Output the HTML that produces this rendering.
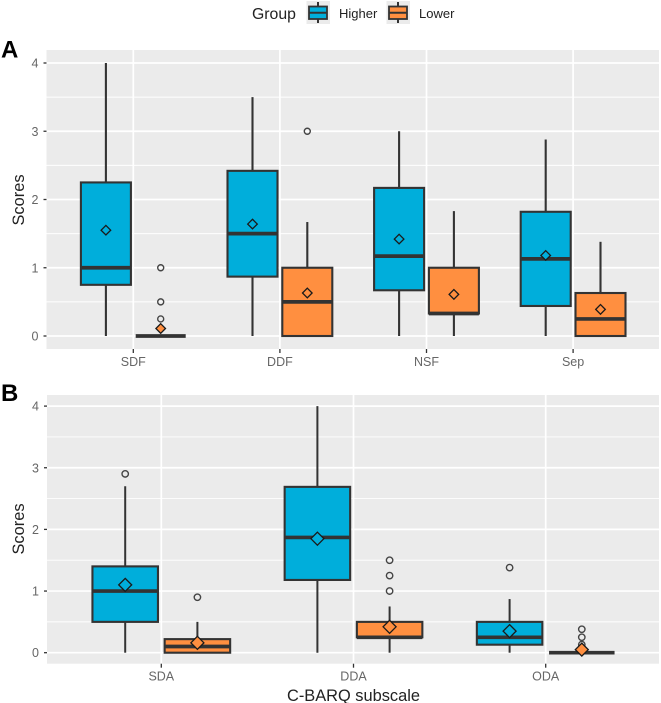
<!DOCTYPE html>
<html>
<head>
<meta charset="utf-8">
<style>
html,body{margin:0;padding:0;background:#fff;width:661px;height:703px;overflow:hidden}
svg{display:block;filter:blur(0.3px)}
text{font-family:"Liberation Sans",sans-serif}
</style>
</head>
<body>
<svg id="chart" xmlns="http://www.w3.org/2000/svg" width="661" height="703" viewBox="0 0 661 703">
  <g>
    <text x="252" y="19" font-size="15.8" fill="#222">Group</text>
    <g>
      <rect x="306.5" y="1" width="23.5" height="23" fill="#ebebeb"/>
      <line x1="318" y1="2" x2="318" y2="23" stroke="#333" stroke-width="2"/>
      <rect x="309" y="6.5" width="18" height="12.5" fill="#00AEDB" stroke="#333" stroke-width="1.8"/>
      <line x1="309" y1="12.7" x2="327" y2="12.7" stroke="#333" stroke-width="2"/>
      <text x="339" y="18" font-size="13" fill="#222">Higher</text>
    </g>
    <g>
      <rect x="386.5" y="1" width="23.5" height="23" fill="#ebebeb"/>
      <line x1="398" y1="2" x2="398" y2="23" stroke="#333" stroke-width="2"/>
      <rect x="389" y="6.5" width="18" height="12.5" fill="#FF8F40" stroke="#333" stroke-width="1.8"/>
      <line x1="389" y1="12.7" x2="407" y2="12.7" stroke="#333" stroke-width="2"/>
      <text x="419" y="18" font-size="13" fill="#222">Lower</text>
    </g>
  </g>
  <text x="1" y="57.5" font-size="24" font-weight="bold" fill="#000">A</text>
  <text x="1" y="401" font-size="24" font-weight="bold" fill="#000">B</text>
  <text x="0" y="0" transform="translate(24,200) rotate(-90)" text-anchor="middle" font-size="16.4" fill="#222">Scores</text>
  <text x="0" y="0" transform="translate(24,529) rotate(-90)" text-anchor="middle" font-size="16.4" fill="#222">Scores</text>
  <text x="353.5" y="701" text-anchor="middle" font-size="16.4" fill="#222">C-BARQ subscale</text>
  <g id="panelA"></g>
  <g id="panelB"></g>
</svg>
<script>
// Tick labels
const yTicks = [0, 1, 2, 3, 4];
const yMinorTicks = [0.5, 1.5, 2.5, 3.5];

// Panel A categories and series: [whiskerLow, q1, median, q3, whiskerHigh]
const categoriesA = ["SDF", "DDF", "NSF", "Sep"];
const higherStatsA = [[0, 0.75, 1, 2.25, 4], [0, 0.87, 1.5, 2.42, 3.5], [0, 0.67, 1.17, 2.17, 3], [0, 0.44, 1.13, 1.82, 2.88]];
const lowerStatsA = [[0, 0, 0, 0, 0], [0, 0, 0.5, 1, 1.67], [0, 0.33, 0.33, 1, 1.83], [0, 0, 0.25, 0.63, 1.38]];
const higherMeansA = [1.55, 1.64, 1.42, 1.18];
const lowerMeansA = [0.11, 0.63, 0.61, 0.39];
const higherOutliersA = [[], [], [], []];
const lowerOutliersA = [[0.25, 0.5, 1], [3], [], []];

// Panel B categories and series
const categoriesB = ["SDA", "DDA", "ODA"];
const higherStatsB = [[0, 0.5, 1, 1.4, 2.7], [0, 1.18, 1.87, 2.69, 4], [0, 0.13, 0.25, 0.5, 0.87]];
const lowerStatsB = [[0, 0, 0.1, 0.22, 0.5], [0, 0.25, 0.25, 0.5, 0.75], [0, 0, 0, 0, 0]];
const higherMeansB = [1.1, 1.85, 0.35];
const lowerMeansB = [0.16, 0.42, 0.05];
const higherOutliersB = [[2.9], [], [1.38]];
const lowerOutliersB = [[0.9], [1, 1.25, 1.5], [0.13, 0.25, 0.38]];

const SVGNS = "http://www.w3.org/2000/svg";
const BLUE = "#00AEDB";
const ORANGE = "#FF8F40";
const DARK = "#333333";

function mk(parent, tag, props, txt) {
  const el = document.createElementNS(SVGNS, tag);
  for (const k in props) el.setAttribute(k, props[k]);
  if (txt !== undefined) el.textContent = txt;
  parent.appendChild(el);
  return el;
}

function drawPanel(root, cfg) {
  const yScale = v => cfg.y0 - v * cfg.yUnit;
  const xScale = i => cfg.x0 + i * cfg.xStep;

  const bg = mk(root, "rect", {x: cfg.left, y: cfg.top, width: cfg.right - cfg.left, height: cfg.bottom - cfg.top, fill: "#EBEBEB"});
  
  

  yMinorTicks.forEach(t => {
    const g = mk(root, "line", {x1: cfg.left, x2: cfg.right, y1: yScale(t), y2: yScale(t), stroke: "#fff", "stroke-width": 0.9});
    
    
  });
  yTicks.forEach(t => {
    const g = mk(root, "line", {x1: cfg.left, x2: cfg.right, y1: yScale(t), y2: yScale(t), stroke: "#fff", "stroke-width": 1.7});
    
    
    const tk = mk(root, "line", {x1: cfg.left - 3, x2: cfg.left, y1: yScale(t), y2: yScale(t), stroke: "#333", "stroke-width": 1.3});
    
    
    const lb = mk(root, "text", {x: cfg.left - 8, y: yScale(t) + 4.5, "text-anchor": "end", "font-size": 12.5, fill: "#666"}, String(t));
    
    
  });
  cfg.categories.forEach((c, i) => {
    const x = xScale(i);
    const g = mk(root, "line", {x1: x, x2: x, y1: cfg.top, y2: cfg.bottom, stroke: "#fff", "stroke-width": 1.7});
    
    
    const tk = mk(root, "line", {x1: x, x2: x, y1: cfg.bottom, y2: cfg.bottom + 4, stroke: "#333", "stroke-width": 1.3});
    
    
    const lb = mk(root, "text", {x: x, y: cfg.bottom + 17, "text-anchor": "middle", "font-size": 12.5, fill: "#666"}, c);
    
    
  });

  const drawSeries = (stats, means, outliers, sign, fill, group) => {
    stats.forEach((s, i) => {
      const cx = xScale(i) + sign * cfg.dodge;
      const hw = cfg.boxWidth / 2;
      const wl = mk(root, "line", {x1: cx, x2: cx, y1: yScale(s[0]), y2: yScale(s[1]), stroke: DARK, "stroke-width": cfg.whisker});
      
      
      const wh = mk(root, "line", {x1: cx, x2: cx, y1: yScale(s[3]), y2: yScale(s[4]), stroke: DARK, "stroke-width": cfg.whisker});
      
      
      const bx = mk(root, "rect", {x: cx - hw, y: yScale(s[3]), width: cfg.boxWidth, height: yScale(s[1]) - yScale(s[3]), fill: fill, stroke: DARK, "stroke-width": cfg.boxStroke});
      
      
      const md = mk(root, "line", {x1: cx - hw, x2: cx + hw, y1: yScale(s[2]), y2: yScale(s[2]), stroke: DARK, "stroke-width": cfg.median});
      
      
      outliers[i].forEach(v => {
        const o = mk(root, "circle", {cx: cx, cy: yScale(v), r: cfg.outlierR, fill: "none", stroke: "#444", "stroke-width": 1.4});
        
        
      });
      const my = yScale(means[i]);
      const d = cfg.diamond;
      const dm = mk(root, "polygon", {points: cx + "," + (my - d) + " " + (cx + d) + "," + my + " " + cx + "," + (my + d) + " " + (cx - d) + "," + my, fill: fill, stroke: "#1a1a1a", "stroke-width": 1.3});
      
      
    });
  };
  drawSeries(cfg.higherStats, cfg.higherMeans, cfg.higherOutliers, -1, BLUE, "higher");
  drawSeries(cfg.lowerStats, cfg.lowerMeans, cfg.lowerOutliers, 1, ORANGE, "lower");
}

drawPanel(document.getElementById("panelA"), {
  left: 46.5, right: 659, top: 50, bottom: 349,
  y0: 336, yUnit: 68.25, x0: 133.3, xStep: 146.6, dodge: 27.4, boxWidth: 50,
  whisker: 2.1, boxStroke: 2.1, median: 3.7, outlierR: 3, diamond: 4.8,
  categories: categoriesA, higherStats: higherStatsA, lowerStats: lowerStatsA,
  higherMeans: higherMeansA, lowerMeans: lowerMeansA,
  higherOutliers: higherOutliersA, lowerOutliers: lowerOutliersA
});
drawPanel(document.getElementById("panelB"), {
  left: 47, right: 659, top: 395, bottom: 663.7,
  y0: 652.7, yUnit: 61.65, x0: 161.3, xStep: 192.2, dodge: 36.1, boxWidth: 65.5,
  whisker: 2, boxStroke: 2.1, median: 3.7, outlierR: 3.2, diamond: 6.5,
  categories: categoriesB, higherStats: higherStatsB, lowerStats: lowerStatsB,
  higherMeans: higherMeansB, lowerMeans: lowerMeansB,
  higherOutliers: higherOutliersB, lowerOutliers: lowerOutliersB
});
</script>
</body>
</html>
